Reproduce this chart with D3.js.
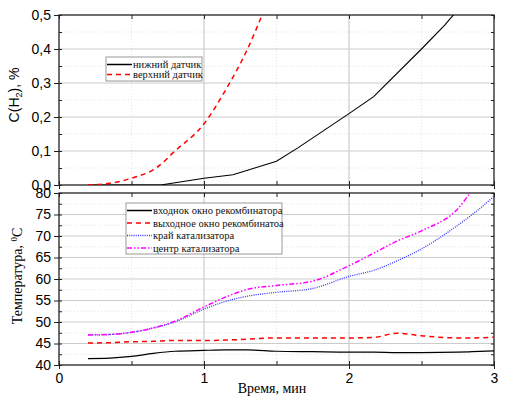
<!DOCTYPE html>
<html>
<head>
<meta charset="utf-8">
<script src="https://d3js.org/d3.v7.min.js"></script>
<style>
  body { margin: 0; background: #fff; }
</style>
</head>
<body>
<script>
// top panel: hydrogen concentration
var lowerT = [0.2, 0.7, 1.0, 1.2, 1.5, 1.65, 2.0, 2.17, 2.5, 2.66, 2.76];
var lowerC = [0, 0, 0.02, 0.03, 0.07, 0.11, 0.21, 0.26, 0.40, 0.47, 0.52];
var upperT = [0.2, 0.35, 0.5, 0.67, 0.8, 1.0, 1.15, 1.3, 1.42];
var upperC = [0, 0.005, 0.02, 0.05, 0.1, 0.18, 0.28, 0.40, 0.52];

// bottom panel: temperatures
var timeB = [0.2, 0.35, 0.5, 0.65, 0.8, 1.0, 1.15, 1.3, 1.5, 1.75, 2.0, 2.17, 2.33, 2.5, 2.75, 2.85, 3.0];
var inletT = [41.5, 41.6, 42.0, 42.7, 43.2, 43.4, 43.5, 43.5, 43.2, 43.1, 43.0, 43.0, 42.9, 42.9, 43.0, 43.1, 43.3];
var outletT = [45.1, 45.2, 45.4, 45.5, 45.7, 45.7, 45.8, 46.0, 46.3, 46.3, 46.3, 46.4, 47.4, 46.8, 46.3, 46.3, 46.5];
var edgeT = [47.0, 47.1, 47.6, 48.6, 50.0, 53.0, 54.8, 56.0, 56.9, 57.8, 60.6, 62.0, 64.2, 67.0, 72.5, 75.0, 79.2];
var centerT = [47.0, 47.1, 47.6, 48.6, 50.2, 53.5, 55.8, 57.6, 58.5, 59.5, 63.1, 66.0, 68.8, 71.2, 76.3, 80.5, 84.0];

var topTicks = [0, 0.1, 0.2, 0.3, 0.4, 0.5];
var botTicks = [40, 45, 50, 55, 60, 65, 70, 75, 80];
var xTicks = [0, 1, 2, 3];

var SANS = "'Liberation Sans', Arial, sans-serif";
var SERIF = "'Liberation Serif', 'Times New Roman', 'DejaVu Serif', serif";

var width = 511, height = 400;
var left = 59, right = 494;

var svg = d3.select("body").append("svg")
    .attr("width", width).attr("height", height);

var x = d3.scaleLinear().domain([0, 3]).range([left, right]);
var yTop = d3.scaleLinear().domain([0, 0.5]).range([185, 15]);
var yBot = d3.scaleLinear().domain([40, 80]).range([365, 193]);

var defs = svg.append("defs");

function noDomain(s) { s.select(".domain").remove(); }

function panel(id, y, majors, minorStep) {
    var g = svg.append("g");
    var y0 = y.range()[0], y1 = y.range()[1];
    var d = y.domain();
    defs.append("clipPath").attr("id", id)
        .append("rect").attr("x", left).attr("y", y1)
        .attr("width", right - left).attr("height", y0 - y1);

    // minor grid
    var minorY = d3.range(d[0] + minorStep, d[1], minorStep * 2);
    g.selectAll(".mgy").data(minorY).enter().append("line")
        .attr("x1", left).attr("x2", right)
        .attr("y1", y).attr("y2", y)
        .attr("stroke", "#ddd").attr("stroke-width", 0.8).attr("stroke-dasharray", "1,2");
    g.selectAll(".mgx").data([0.5, 1.5, 2.5]).enter().append("line")
        .attr("x1", x).attr("x2", x)
        .attr("y1", y1).attr("y2", y0)
        .attr("stroke", "#ddd").attr("stroke-width", 0.8).attr("stroke-dasharray", "1,2");
    // major grid
    g.selectAll(".gy").data(majors.slice(1, -1)).enter().append("line")
        .attr("x1", left).attr("x2", right)
        .attr("y1", y).attr("y2", y)
        .attr("stroke", "#ccc").attr("stroke-width", 1.2);
    g.selectAll(".gx").data([1, 2]).enter().append("line")
        .attr("x1", x).attr("x2", x)
        .attr("y1", y1).attr("y2", y0)
        .attr("stroke", "#ccc").attr("stroke-width", 1.2);

    // minor ticks inside, major ticks outside on left/bottom
    var minorAll = d3.range(d[0], d[1] + 1e-9, minorStep);
    var xs = d3.range(0, 3.01, 0.5);
    [
        [d3.axisLeft(y), "translate(" + left + ",0)", minorAll, -3],
        [d3.axisLeft(y), "translate(" + left + ",0)", majors, 5],
        [d3.axisRight(y), "translate(" + right + ",0)", minorAll, -3],
        [d3.axisBottom(x), "translate(0," + y0 + ")", xs, -4],
        [d3.axisBottom(x), "translate(0," + y0 + ")", xTicks, 4],
        [d3.axisTop(x), "translate(0," + y1 + ")", xs, -4]
    ].forEach(function(a) {
        svg.append("g").attr("transform", a[1])
            .call(a[0].tickValues(a[2]).tickSize(a[3]).tickFormat(""))
            .call(noDomain)
            .selectAll("line").attr("stroke", "#222");
    });

    svg.append("rect").attr("x", left).attr("y", y1)
        .attr("width", right - left).attr("height", y0 - y1)
        .attr("fill", "none").attr("stroke", "#222").attr("stroke-width", 1.3);
}

panel("clipTop", yTop, topTicks, 0.05);
panel("clipBot", yBot, botTicks, 2.5);

// tick labels
function labels(g) {
    g.select(".domain").remove();
    g.attr("font-family", null).attr("font-size", null);
    g.selectAll("text").style("font-family", SANS).style("font-size", "14px").attr("fill", "#000");
}
var fmtTop = function(v) { return d3.format(".1f")(v).replace(".", ","); };
svg.append("g").attr("transform", "translate(" + left + ",0)")
    .call(d3.axisLeft(yTop).tickValues(topTicks).tickSize(0).tickPadding(8).tickFormat(fmtTop))
    .call(labels);
svg.append("g").attr("transform", "translate(" + left + ",0)")
    .call(d3.axisLeft(yBot).tickValues(botTicks).tickSize(0).tickPadding(8).tickFormat(d3.format("d")))
    .call(labels);
svg.append("g").attr("transform", "translate(0,365)")
    .call(d3.axisBottom(x).tickValues(xTicks).tickSize(0).tickPadding(8).tickFormat(d3.format("d")))
    .call(labels);

// lines
function draw(clip, ts, vs, y, color, dash, w, curve) {
    var pts = ts.map(function(t, i) { return [t, vs[i]]; });
    svg.append("path").datum(pts)
        .attr("clip-path", "url(#" + clip + ")")
        .attr("fill", "none").attr("stroke", color).attr("stroke-width", w)
        .attr("stroke-dasharray", dash)
        .attr("d", d3.line().curve(curve || d3.curveLinear)
            .x(function(p) { return x(p[0]); })
            .y(function(p) { return y(p[1]); }));
}

draw("clipTop", lowerT, lowerC, yTop, "#000", null, 1.1);
draw("clipTop", upperT, upperC, yTop, "#ff0000", "5,4", 1.5, d3.curveMonotoneX);

draw("clipBot", timeB, inletT, yBot, "#000", null, 1.2, d3.curveMonotoneX);
draw("clipBot", timeB, outletT, yBot, "#ff0000", "5,4", 1.5, d3.curveMonotoneX);
draw("clipBot", timeB, edgeT, yBot, "#3333ff", "1,1.2", 1.3, d3.curveMonotoneX);
draw("clipBot", timeB, centerT, yBot, "#ff00ff", "5,2,1.5,2,1.5,2", 1.5, d3.curveMonotoneX);

// legends
function legend(bx, by, bw, bh, items, fs, dy) {
    var g = svg.append("g");
    g.append("rect").attr("x", bx).attr("y", by).attr("width", bw).attr("height", bh)
        .attr("fill", "#fff").attr("stroke", "#999").attr("stroke-width", 1);
    items.forEach(function(it, i) {
        var yy = by + 7.5 + i * dy;
        g.append("line").attr("x1", bx + 1).attr("x2", bx + 26)
            .attr("y1", yy).attr("y2", yy)
            .attr("stroke", it.color).attr("stroke-width", it.w)
            .attr("stroke-dasharray", it.dash);
        g.append("text")
            .attr("x", bx + 27).attr("y", yy + 3.5)
            .style("font-family", SERIF).style("font-size", fs)
            .attr("fill", "#111")
            .text(it.label);
    });
}

legend(106, 57, 96, 24, [
    { label: "нижний датчик", color: "#000", w: 1.5, dash: null },
    { label: "верхний датчик", color: "#ff0000", w: 1.5, dash: "5,4" }
], "10.5px", 10);

legend(126, 203, 156, 51, [
    { label: "входнок окно рекомбинатора", color: "#000", w: 1.5, dash: null },
    { label: "выходное окно рекомбинатоа", color: "#ff0000", w: 1.5, dash: "5,4" },
    { label: "край катализатора", color: "#3333ff", w: 1.3, dash: "1,1.2" },
    { label: " центр катализатора", color: "#ff00ff", w: 1.5, dash: "5,2,1.5,2,1.5,2" }
], "10.5px", 12.5);

// axis titles
var t1 = svg.append("text")
    .attr("transform", "translate(19,95) rotate(-90)")
    .attr("text-anchor", "middle")
    .style("font-family", SANS).style("font-size", "14px");
t1.append("tspan").text("C(H");
t1.append("tspan").style("font-size", "9px").attr("dy", 3).text("2");
t1.append("tspan").attr("dy", -3).text("), %");

var t2 = svg.append("text")
    .attr("transform", "translate(22,276) rotate(-90)")
    .attr("text-anchor", "middle")
    .style("font-family", SERIF).style("font-size", "14px");
t2.append("tspan").text("Температура, ");
t2.append("tspan").style("font-size", "9px").attr("dy", -5).text("0");
t2.append("tspan").attr("dy", 5).text("C");

svg.append("text")
    .attr("x", 272).attr("y", 393)
    .attr("text-anchor", "middle")
    .style("font-family", SERIF).style("font-size", "14px")
    .text("Время, мин");
</script>
</body>
</html>
